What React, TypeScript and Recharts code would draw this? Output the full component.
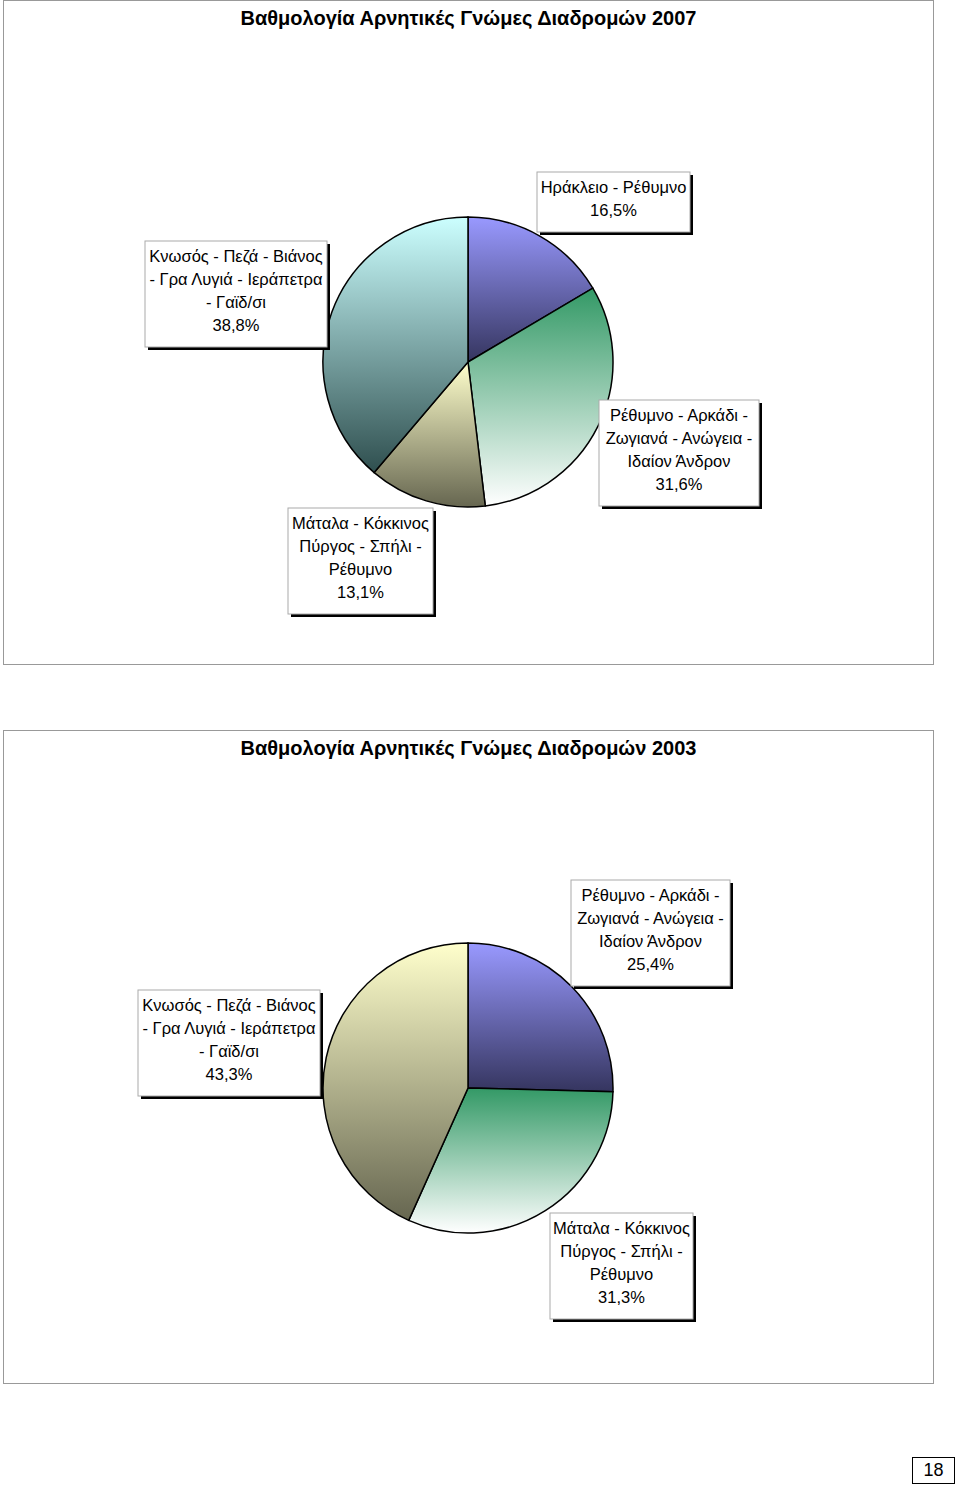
import React from 'react';
import { PieChart, Pie, Cell } from 'recharts';

// ---------- data ----------
const title2007 = 'Βαθμολογία Αρνητικές Γνώμες Διαδρομών 2007';
const title2003 = 'Βαθμολογία Αρνητικές Γνώμες Διαδρομών 2003';

const routes2007 = [
  'Ηράκλειο - Ρέθυμνο',
  'Ρέθυμνο - Αρκάδι -\nΖωγιανά - Ανώγεια -\nΙδαίον Άνδρον',
  'Μάταλα - Κόκκινος\nΠύργος - Σπήλι -\nΡέθυμνο',
  'Κνωσός - Πεζά - Βιάνος\n- Γρα Λυγιά - Ιεράπετρα\n- Γαϊδ/σι',
];
const shares2007 = [16.5, 31.6, 13.1, 38.8];

const routes2003 = [
  'Ρέθυμνο - Αρκάδι -\nΖωγιανά - Ανώγεια -\nΙδαίον Άνδρον',
  'Μάταλα - Κόκκινος\nΠύργος - Σπήλι -\nΡέθυμνο',
  'Κνωσός - Πεζά - Βιάνος\n- Γρα Λυγιά - Ιεράπετρα\n- Γαϊδ/σι',
];
const shares2003 = [25.4, 31.3, 43.3];

const pageNumber = '18';

// ---------- styles / layout ----------
const FONT = '"Liberation Sans", Arial, sans-serif';
const fills2007 = ['url(#gBlue)', 'url(#gGreen)', 'url(#gBeige)', 'url(#gCyan)'];
const fills2003 = ['url(#gBlue)', 'url(#gGreen)', 'url(#gBeige)'];

// label boxes (left, top, width) in chart coordinates
const boxes2007 = [
  { x: 534, y: 172, w: 153 },
  { x: 596, y: 400, w: 160 },
  { x: 285, y: 508, w: 145 },
  { x: 142, y: 241, w: 182 },
];
const boxes2003 = [
  { x: 568, y: 150, w: 159 },
  { x: 547, y: 483, w: 143 },
  { x: 135, y: 260, w: 182 },
];

const fmt = (v: number) => v.toFixed(1).replace('.', ',') + '%';

const makeLabel = (boxes: { x: number; y: number; w: number }[]) => (props: any) => {
  const idx = props.index;
  const b = boxes[idx];
  const name: string = props.name ?? props.payload?.name ?? '';
  const value: number = props.value ?? props.payload?.value ?? 0;
  const lines = [...name.split('\n'), fmt(value)];
  const h = lines.length * 23 + 14;
  const cxText = b.x + b.w / 2;
  return (
    <g key={`lbl-${idx}`}>
      <rect x={b.x + 3} y={b.y + 3} width={b.w} height={h} fill="#000" />
      <rect x={b.x} y={b.y} width={b.w} height={h} fill="#fff" stroke="#aaa" strokeWidth={1} />
      {lines.map((ln, i) => (
        <text
          key={i}
          x={cxText}
          y={b.y + 15 + i * 23}
          textAnchor="middle"
          dominantBaseline="central"
          fontFamily={FONT}
          fontSize={16.5}
          fill="#000"
        >
          {ln}
        </text>
      ))}
    </g>
  );
};

const Panel = ({
  top,
  height,
  title,
  names,
  values,
  fills,
  boxes,
  cy,
}: {
  top: number;
  height: number;
  title: string;
  names: string[];
  values: number[];
  fills: string[];
  boxes: { x: number; y: number; w: number }[];
  cy: number;
}) => {
  const data = names.map((n, i) => ({ name: n, value: values[i] }));
  return (
    <>
      <div
        style={{
          position: 'absolute',
          left: 3,
          top,
          width: 931,
          height,
          border: '1px solid #999',
          boxSizing: 'border-box',
        }}
      />
      <div style={{ position: 'absolute', left: 3, top }}>
        <PieChart width={931} height={height} margin={{ top: 0, right: 0, bottom: 0, left: 0 }}>
          <Pie
            data={data}
            dataKey="value"
            nameKey="name"
            cx={465}
            cy={cy}
            outerRadius={145}
            startAngle={90}
            endAngle={-270}
            stroke="#000"
            strokeWidth={1.5}
            labelLine={false}
            label={makeLabel(boxes)}
            isAnimationActive={false}
          >
            {data.map((_, i) => (
              <Cell key={i} fill={fills[i]} stroke="#000" strokeWidth={1.5} />
            ))}
          </Pie>
        </PieChart>
      </div>
      <div
        style={{
          position: 'absolute',
          left: 3,
          top: top + 6,
          width: 931,
          textAlign: 'center',
          fontFamily: FONT,
          fontWeight: 'bold',
          fontSize: 20,
          lineHeight: '24px',
          color: '#000',
        }}
      >
        {title}
      </div>
    </>
  );
};

export default function App() {
  return (
    <div
      style={{
        position: 'absolute',
        left: 0,
        top: 0,
        width: 960,
        height: 1486,
        background: '#fff',
        fontFamily: FONT,
        overflow: 'hidden',
      }}
    >
      <svg width={0} height={0} style={{ position: 'absolute' }}>
        <defs>
          <linearGradient id="gBlue" x1="0" y1="0" x2="0" y2="1">
            <stop offset="0%" stopColor="#9999ff" />
            <stop offset="100%" stopColor="#35355f" />
          </linearGradient>
          <linearGradient id="gGreen" x1="0" y1="0" x2="0" y2="1">
            <stop offset="0%" stopColor="#339966" />
            <stop offset="100%" stopColor="#ffffff" />
          </linearGradient>
          <linearGradient id="gBeige" x1="0" y1="0" x2="0" y2="1">
            <stop offset="0%" stopColor="#ffffcc" />
            <stop offset="100%" stopColor="#666650" />
          </linearGradient>
          <linearGradient id="gCyan" x1="0" y1="0" x2="0" y2="1">
            <stop offset="0%" stopColor="#ccffff" />
            <stop offset="100%" stopColor="#2f4f4f" />
          </linearGradient>
        </defs>
      </svg>
      <Panel
        top={0}
        height={665}
        title={title2007}
        names={routes2007}
        values={shares2007}
        fills={fills2007}
        boxes={boxes2007}
        cy={362}
      />
      <Panel
        top={730}
        height={654}
        title={title2003}
        names={routes2003}
        values={shares2003}
        fills={fills2003}
        boxes={boxes2003}
        cy={358}
      />
      <div
        style={{
          position: 'absolute',
          left: 912,
          top: 1457,
          width: 43,
          height: 27,
          border: '1.5px solid #000',
          boxSizing: 'border-box',
          textAlign: 'center',
          lineHeight: '24px',
          fontFamily: FONT,
          fontSize: 18,
          color: '#000',
        }}
      >
        {pageNumber}
      </div>
    </div>
  );
}
